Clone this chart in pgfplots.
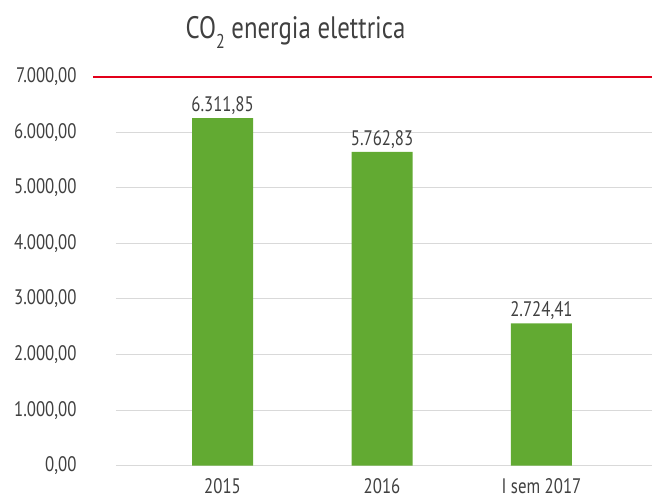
\documentclass[border=0pt]{standalone}
\usepackage{pgfplots}
\pgfplotsset{compat=1.18}
\usepackage{fontspec}
\setmainfont{PT Sans}[FakeStretch=0.8]
\definecolor{bargreen}{HTML}{62AA32}
\definecolor{linered}{HTML}{E2001A}
\definecolor{txt}{HTML}{404040}
\definecolor{gridgray}{HTML}{D9D9D9}
\begin{document}
\begin{tikzpicture}
\begin{axis}[
  name=ax,
  at={(0,0)}, anchor=south west,
  scale only axis,
  width=536pt, height=389pt,
  xmin=-0.668, xmax=2.693,
  ymin=0, ymax=7000,
  axis line style={draw=none},
  major tick length=0pt,
  ytick={0,1000,...,7000},
  ymajorgrids=true, xmajorgrids=false,
  grid style={draw=gridgray, line width=1pt},
  xtick={0,1,2},
  xticklabels={2015,2016,I sem 2017},
  every tick label/.append style={font=\fontsize{21}{25}\selectfont, text=txt},
  /pgf/number format/fixed,
  /pgf/number format/fixed zerofill,
  /pgf/number format/precision=2,
  /pgf/number format/use comma,
  /pgf/number format/1000 sep={.},
  /pgf/number format/assume math mode=true,
  scaled y ticks=false,
  yticklabel style={xshift=-36pt},
  xticklabel style={inner sep=0pt, yshift=-13pt},
  clip=false,
  nodes near coords,
  point meta=explicit symbolic,
  every node near coord/.append style={font=\fontsize{21}{25}\selectfont, text=txt, yshift=0pt},
]
\addplot[ybar, bar width=61pt, fill=bargreen, draw=none] table[x=x, y=y, meta=lab] {
x y lab
0 6254 {6.311,85}
1 5647 {5.762,83}
2 2561 {2.724,41}
};
\draw[linered, line width=2.3pt] (axis cs:-0.812,7000) -- (axis cs:2.693,7000);
\end{axis}
\node[anchor=base, text=txt, font=\fontsize{31}{36}\selectfont] at (179.5pt,427.4pt) {CO\raisebox{-10pt}{\fontsize{20}{22}\selectfont 2} energia elettrica};
\pgfresetboundingbox
\useasboundingbox (-116pt,-34.3pt) rectangle (536pt,465.7pt);
\end{tikzpicture}
\end{document}
